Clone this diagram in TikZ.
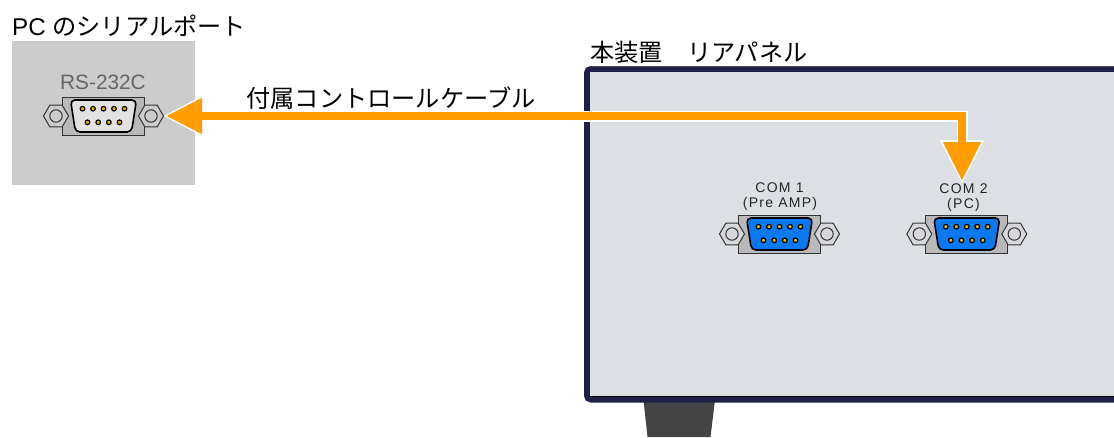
\documentclass[tikz,border=0pt]{standalone}
\usepackage{fontspec}
\setmainfont{Liberation Sans}
\newfontfamily\cjk{Noto Sans CJK JP}
\newfontfamily\spaced[LetterSpace=9]{Liberation Sans}
\usetikzlibrary{arrows.meta}
\definecolor{cableor}{HTML}{FF9C00}
\definecolor{panelbg}{HTML}{DCDFE4}
\definecolor{panelframe}{HTML}{1F1F47}
\definecolor{pcbg}{HTML}{CCCCCC}
\definecolor{platec}{HTML}{B9B9B9}
\definecolor{shellblue}{HTML}{0A78F0}
\definecolor{shellpc}{HTML}{E2E2E2}
\definecolor{pinc}{HTML}{F0B400}
\definecolor{footc}{HTML}{444444}
\tikzset{
  lbl/.style={inner sep=0pt,font=\fontsize{24.2}{26}\selectfont},
  comlbl/.style={inner sep=0pt,font=\fontsize{14}{15}\spaced,text=black!85},
  plate/.style={fill=platec,draw=black!80,line width=1pt},
  nut/.style={draw=black!80,line width=1pt},
  shell/.style={draw=black,line width=1.6pt,rounded corners=4.5pt},
  pinpt/.style={fill=pinc,draw=black,line width=1.2pt},
  cablewhite/.style={white,line width=11pt,line join=miter},
  cableorange/.style={cableor,line width=8pt,line join=miter}
}
\newcommand{\dsub}[4]{% x, y, shell colour, nut colour
  \begin{scope}[shift={(#1,#2)}]
    \draw[plate] (-41,-19) rectangle (41,19);
    \foreach \c in {-47.5,47.5}{
      \begin{scope}[shift={(\c,0)}]
        \draw[nut,fill=#4] (-12.5,0)--(-6.2,-10.8)--(6.2,-10.8)--(12.5,0)--(6.2,10.8)--(-6.2,10.8)--cycle;
        \draw[nut] (0,0) circle (6.2);
      \end{scope}}
    \draw[shell,fill=#3] (-33,-16)--(33,-16)--(28,16)--(-28,16)--cycle;
    \foreach \p in {-21,-10.5,0,10.5,21} \draw[pinpt] (\p,-7.3) circle (2.3);
    \foreach \p in {-16,-5.3,5.3,16} \draw[pinpt] (\p,6.3) circle (2.3);
  \end{scope}}
\begin{document}
\begin{tikzpicture}[x=1pt,y=-1pt]
\useasboundingbox (0,0) rectangle (1114,437);
% PC side
\fill[pcbg] (12,41) rectangle (195,185);
\node[lbl,anchor=west] (pclabel) at (12,26) {PC {\cjk のシリアルポート}};
\node[inner sep=0pt,font=\fontsize{20.8}{22}\selectfont,text=black!60] (rs) at (103,82) {RS-232C};
\dsub{103.5}{116}{shellpc}{pcbg}
% rear panel
\fill[footc] (643.5,400) -- (715,400) -- (710.5,437) -- (647.5,437) -- cycle;
\draw[panelframe,line width=6pt,fill=panelbg,rounded corners=4pt]
  (1130,69) -- (587,69) -- (587,399.5) -- (1130,399.5);
\fill[panelbg] (590,72) rectangle (1114,396.5);
\draw[black,line width=.8pt] (590,396.8) -- (1114,396.8);
\draw[black!70,line width=.6pt] (590,66) -- (1114,66);
\node[lbl,anchor=west] (panellabel) at (590,52) {\cjk 本装置　リアパネル};
\node[comlbl] (com1a) at (779.5,188) {COM 1};
\node[comlbl] (com1b) at (780,204) {(Pre AMP)};
\node[comlbl] (com2a) at (963.5,189) {COM 2};
\node[comlbl] (com2b) at (963.5,205) {(PC)};
\dsub{779.5}{234}{shellblue}{panelbg!80!platec}
\dsub{966.8}{234}{shellblue}{panelbg!80!platec}
% cable
\coordinate (leftWhite) at (163,116);
\coordinate (rightWhite) at (962,184);
\coordinate (leftTip) at (166,116);
\coordinate (rightTip) at (962,181);
\draw[cablewhite,{Triangle[length=41pt,width=39pt,fill=white]}-{Triangle[length=44pt,width=41pt,fill=white]}] (leftWhite) -| (rightWhite);
\draw[cableorange,{Triangle[length=36pt,width=34pt,fill=cableor]}-{Triangle[length=39pt,width=36pt,fill=cableor]}] (leftTip) -| (rightTip);
\node[lbl] (cablelabel) at (391,98) {\cjk 付属コントロールケーブル};
\end{tikzpicture}
\end{document}
